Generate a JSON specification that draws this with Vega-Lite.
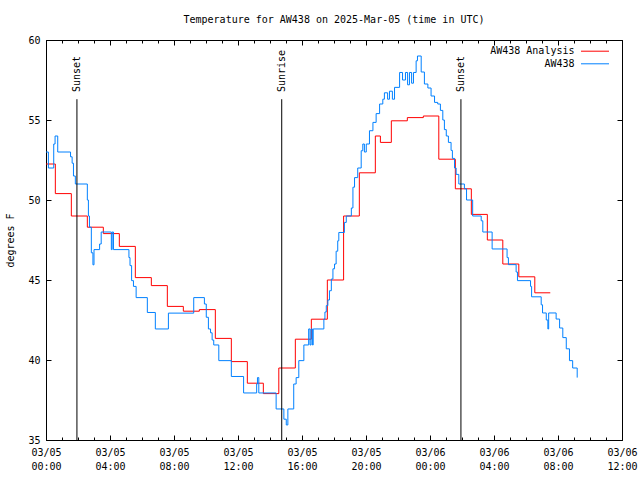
{
  "$schema": "https://vega.github.io/schema/vega-lite/v6.json",
  "width": 576,
  "height": 400,
  "autosize": "none",
  "padding": {"left": 46, "top": 40, "right": 18, "bottom": 40},
  "background": "white",
  "title": {"text": "Temperature for AW438 on 2025-Mar-05 (time in UTC)", "font": "DejaVu Sans Mono", "fontSize": 10, "fontWeight": "normal", "color": "black", "anchor": "middle", "offset": 10},
  "config": {
    "font": "DejaVu Sans Mono",
    "view": {"stroke": "black", "strokeWidth": 1},
    "axis": {"grid": false, "domain": false, "tickColor": "black", "tickWidth": 1, "labelColor": "black", "labelFont": "DejaVu Sans Mono", "labelFontSize": 10, "titleFont": "DejaVu Sans Mono", "titleFontSize": 10, "titleFontWeight": "normal", "titleColor": "black", "labelOverlap": false, "labelBound": false, "labelFlush": false}
  },
  "datasets": {
    "temps": [
      {"t": "2025-03-05T00:00:00Z", "v": 52.25, "s": "AW438 Analysis"},
      {"t": "2025-03-05T00:35:00Z", "v": 50.4, "s": "AW438 Analysis"},
      {"t": "2025-03-05T01:35:00Z", "v": 49.0, "s": "AW438 Analysis"},
      {"t": "2025-03-05T02:35:00Z", "v": 48.3, "s": "AW438 Analysis"},
      {"t": "2025-03-05T03:35:00Z", "v": 47.9, "s": "AW438 Analysis"},
      {"t": "2025-03-05T04:35:00Z", "v": 47.1, "s": "AW438 Analysis"},
      {"t": "2025-03-05T05:35:00Z", "v": 45.15, "s": "AW438 Analysis"},
      {"t": "2025-03-05T06:35:00Z", "v": 44.65, "s": "AW438 Analysis"},
      {"t": "2025-03-05T07:35:00Z", "v": 43.35, "s": "AW438 Analysis"},
      {"t": "2025-03-05T08:35:00Z", "v": 43.05, "s": "AW438 Analysis"},
      {"t": "2025-03-05T09:35:00Z", "v": 43.15, "s": "AW438 Analysis"},
      {"t": "2025-03-05T10:35:00Z", "v": 41.35, "s": "AW438 Analysis"},
      {"t": "2025-03-05T11:35:00Z", "v": 39.9, "s": "AW438 Analysis"},
      {"t": "2025-03-05T12:35:00Z", "v": 38.55, "s": "AW438 Analysis"},
      {"t": "2025-03-05T13:35:00Z", "v": 37.9, "s": "AW438 Analysis"},
      {"t": "2025-03-05T14:33:00Z", "v": 39.5, "s": "AW438 Analysis"},
      {"t": "2025-03-05T15:35:00Z", "v": 41.3, "s": "AW438 Analysis"},
      {"t": "2025-03-05T16:35:00Z", "v": 42.55, "s": "AW438 Analysis"},
      {"t": "2025-03-05T17:35:00Z", "v": 45.0, "s": "AW438 Analysis"},
      {"t": "2025-03-05T18:36:00Z", "v": 49.0, "s": "AW438 Analysis"},
      {"t": "2025-03-05T19:35:00Z", "v": 51.7, "s": "AW438 Analysis"},
      {"t": "2025-03-05T20:35:00Z", "v": 54.0, "s": "AW438 Analysis"},
      {"t": "2025-03-05T20:54:00Z", "v": 53.6, "s": "AW438 Analysis"},
      {"t": "2025-03-05T21:35:00Z", "v": 54.95, "s": "AW438 Analysis"},
      {"t": "2025-03-05T22:35:00Z", "v": 55.15, "s": "AW438 Analysis"},
      {"t": "2025-03-05T23:35:00Z", "v": 55.25, "s": "AW438 Analysis"},
      {"t": "2025-03-06T00:33:00Z", "v": 52.55, "s": "AW438 Analysis"},
      {"t": "2025-03-06T01:35:00Z", "v": 50.7, "s": "AW438 Analysis"},
      {"t": "2025-03-06T02:35:00Z", "v": 49.1, "s": "AW438 Analysis"},
      {"t": "2025-03-06T03:35:00Z", "v": 47.5, "s": "AW438 Analysis"},
      {"t": "2025-03-06T04:33:00Z", "v": 46.0, "s": "AW438 Analysis"},
      {"t": "2025-03-06T05:33:00Z", "v": 45.2, "s": "AW438 Analysis"},
      {"t": "2025-03-06T06:33:00Z", "v": 44.2, "s": "AW438 Analysis"},
      {"t": "2025-03-06T07:31:00Z", "v": 44.2, "s": "AW438 Analysis"},
      {"t": "2025-03-05T00:00:00Z", "v": 53.0, "s": "AW438"},
      {"t": "2025-03-05T00:09:00Z", "v": 52.0, "s": "AW438"},
      {"t": "2025-03-05T00:29:00Z", "v": 53.5, "s": "AW438"},
      {"t": "2025-03-05T00:34:00Z", "v": 54.0, "s": "AW438"},
      {"t": "2025-03-05T00:44:00Z", "v": 53.0, "s": "AW438"},
      {"t": "2025-03-05T01:32:00Z", "v": 52.7, "s": "AW438"},
      {"t": "2025-03-05T01:38:00Z", "v": 52.3, "s": "AW438"},
      {"t": "2025-03-05T01:43:00Z", "v": 51.5, "s": "AW438"},
      {"t": "2025-03-05T01:50:00Z", "v": 51.0, "s": "AW438"},
      {"t": "2025-03-05T02:35:00Z", "v": 50.0, "s": "AW438"},
      {"t": "2025-03-05T02:39:00Z", "v": 49.0, "s": "AW438"},
      {"t": "2025-03-05T02:43:00Z", "v": 48.3, "s": "AW438"},
      {"t": "2025-03-05T02:50:00Z", "v": 46.7, "s": "AW438"},
      {"t": "2025-03-05T02:56:00Z", "v": 45.95, "s": "AW438"},
      {"t": "2025-03-05T03:00:00Z", "v": 46.9, "s": "AW438"},
      {"t": "2025-03-05T03:21:00Z", "v": 47.25, "s": "AW438"},
      {"t": "2025-03-05T03:27:00Z", "v": 48.0, "s": "AW438"},
      {"t": "2025-03-05T04:05:00Z", "v": 46.9, "s": "AW438"},
      {"t": "2025-03-05T04:08:00Z", "v": 48.0, "s": "AW438"},
      {"t": "2025-03-05T04:13:00Z", "v": 46.9, "s": "AW438"},
      {"t": "2025-03-05T05:11:00Z", "v": 46.4, "s": "AW438"},
      {"t": "2025-03-05T05:15:00Z", "v": 45.9, "s": "AW438"},
      {"t": "2025-03-05T05:21:00Z", "v": 44.96, "s": "AW438"},
      {"t": "2025-03-05T05:28:00Z", "v": 44.6, "s": "AW438"},
      {"t": "2025-03-05T05:38:00Z", "v": 43.9, "s": "AW438"},
      {"t": "2025-03-05T06:20:00Z", "v": 42.97, "s": "AW438"},
      {"t": "2025-03-05T06:50:00Z", "v": 41.94, "s": "AW438"},
      {"t": "2025-03-05T07:39:00Z", "v": 42.93, "s": "AW438"},
      {"t": "2025-03-05T09:14:00Z", "v": 43.9, "s": "AW438"},
      {"t": "2025-03-05T09:54:00Z", "v": 43.5, "s": "AW438"},
      {"t": "2025-03-05T10:01:00Z", "v": 42.67, "s": "AW438"},
      {"t": "2025-03-05T10:09:00Z", "v": 41.94, "s": "AW438"},
      {"t": "2025-03-05T10:17:00Z", "v": 41.7, "s": "AW438"},
      {"t": "2025-03-05T10:23:00Z", "v": 41.25, "s": "AW438"},
      {"t": "2025-03-05T10:29:00Z", "v": 40.94, "s": "AW438"},
      {"t": "2025-03-05T10:48:00Z", "v": 39.96, "s": "AW438"},
      {"t": "2025-03-05T11:35:00Z", "v": 38.97, "s": "AW438"},
      {"t": "2025-03-05T12:21:00Z", "v": 37.94, "s": "AW438"},
      {"t": "2025-03-05T13:10:00Z", "v": 38.5, "s": "AW438"},
      {"t": "2025-03-05T13:13:00Z", "v": 38.9, "s": "AW438"},
      {"t": "2025-03-05T13:18:00Z", "v": 37.94, "s": "AW438"},
      {"t": "2025-03-05T14:23:00Z", "v": 36.94, "s": "AW438"},
      {"t": "2025-03-05T14:52:00Z", "v": 36.3, "s": "AW438"},
      {"t": "2025-03-05T15:01:00Z", "v": 35.94, "s": "AW438"},
      {"t": "2025-03-05T15:07:00Z", "v": 36.94, "s": "AW438"},
      {"t": "2025-03-05T15:29:00Z", "v": 38.5, "s": "AW438"},
      {"t": "2025-03-05T15:38:00Z", "v": 38.9, "s": "AW438"},
      {"t": "2025-03-05T15:48:00Z", "v": 39.96, "s": "AW438"},
      {"t": "2025-03-05T16:07:00Z", "v": 40.94, "s": "AW438"},
      {"t": "2025-03-05T16:25:00Z", "v": 41.94, "s": "AW438"},
      {"t": "2025-03-05T16:30:00Z", "v": 40.94, "s": "AW438"},
      {"t": "2025-03-05T16:34:00Z", "v": 41.94, "s": "AW438"},
      {"t": "2025-03-05T16:39:00Z", "v": 40.94, "s": "AW438"},
      {"t": "2025-03-05T16:42:00Z", "v": 41.94, "s": "AW438"},
      {"t": "2025-03-05T17:22:00Z", "v": 42.56, "s": "AW438"},
      {"t": "2025-03-05T17:26:00Z", "v": 43.0, "s": "AW438"},
      {"t": "2025-03-05T17:31:00Z", "v": 43.4, "s": "AW438"},
      {"t": "2025-03-05T17:37:00Z", "v": 43.75, "s": "AW438"},
      {"t": "2025-03-05T17:43:00Z", "v": 44.33, "s": "AW438"},
      {"t": "2025-03-05T17:50:00Z", "v": 45.06, "s": "AW438"},
      {"t": "2025-03-05T17:56:00Z", "v": 45.7, "s": "AW438"},
      {"t": "2025-03-05T18:02:00Z", "v": 46.0, "s": "AW438"},
      {"t": "2025-03-05T18:08:00Z", "v": 46.8, "s": "AW438"},
      {"t": "2025-03-05T18:14:00Z", "v": 47.45, "s": "AW438"},
      {"t": "2025-03-05T18:18:00Z", "v": 47.97, "s": "AW438"},
      {"t": "2025-03-05T18:39:00Z", "v": 48.6, "s": "AW438"},
      {"t": "2025-03-05T18:46:00Z", "v": 49.0, "s": "AW438"},
      {"t": "2025-03-05T19:05:00Z", "v": 49.5, "s": "AW438"},
      {"t": "2025-03-05T19:11:00Z", "v": 50.8, "s": "AW438"},
      {"t": "2025-03-05T19:17:00Z", "v": 51.4, "s": "AW438"},
      {"t": "2025-03-05T19:29:00Z", "v": 52.0, "s": "AW438"},
      {"t": "2025-03-05T19:42:00Z", "v": 53.08, "s": "AW438"},
      {"t": "2025-03-05T19:48:00Z", "v": 53.5, "s": "AW438"},
      {"t": "2025-03-05T19:54:00Z", "v": 53.0, "s": "AW438"},
      {"t": "2025-03-05T20:01:00Z", "v": 53.5, "s": "AW438"},
      {"t": "2025-03-05T20:13:00Z", "v": 54.33, "s": "AW438"},
      {"t": "2025-03-05T20:26:00Z", "v": 54.85, "s": "AW438"},
      {"t": "2025-03-05T20:38:00Z", "v": 55.4, "s": "AW438"},
      {"t": "2025-03-05T20:51:00Z", "v": 56.0, "s": "AW438"},
      {"t": "2025-03-05T21:03:00Z", "v": 56.3, "s": "AW438"},
      {"t": "2025-03-05T21:09:00Z", "v": 56.7, "s": "AW438"},
      {"t": "2025-03-05T21:21:00Z", "v": 56.3, "s": "AW438"},
      {"t": "2025-03-05T21:28:00Z", "v": 56.8, "s": "AW438"},
      {"t": "2025-03-05T21:39:00Z", "v": 56.3, "s": "AW438"},
      {"t": "2025-03-05T21:47:00Z", "v": 57.04, "s": "AW438"},
      {"t": "2025-03-05T22:06:00Z", "v": 57.97, "s": "AW438"},
      {"t": "2025-03-05T22:17:00Z", "v": 57.5, "s": "AW438"},
      {"t": "2025-03-05T22:28:00Z", "v": 57.97, "s": "AW438"},
      {"t": "2025-03-05T22:36:00Z", "v": 57.2, "s": "AW438"},
      {"t": "2025-03-05T22:43:00Z", "v": 57.97, "s": "AW438"},
      {"t": "2025-03-05T22:51:00Z", "v": 57.3, "s": "AW438"},
      {"t": "2025-03-05T22:58:00Z", "v": 57.97, "s": "AW438"},
      {"t": "2025-03-05T23:08:00Z", "v": 58.7, "s": "AW438"},
      {"t": "2025-03-05T23:13:00Z", "v": 59.0, "s": "AW438"},
      {"t": "2025-03-05T23:27:00Z", "v": 58.0, "s": "AW438"},
      {"t": "2025-03-05T23:39:00Z", "v": 57.25, "s": "AW438"},
      {"t": "2025-03-05T23:52:00Z", "v": 57.0, "s": "AW438"},
      {"t": "2025-03-06T00:04:00Z", "v": 56.5, "s": "AW438"},
      {"t": "2025-03-06T00:17:00Z", "v": 56.1, "s": "AW438"},
      {"t": "2025-03-06T00:29:00Z", "v": 56.0, "s": "AW438"},
      {"t": "2025-03-06T00:39:00Z", "v": 55.6, "s": "AW438"},
      {"t": "2025-03-06T00:48:00Z", "v": 55.0, "s": "AW438"},
      {"t": "2025-03-06T00:54:00Z", "v": 54.4, "s": "AW438"},
      {"t": "2025-03-06T01:01:00Z", "v": 54.0, "s": "AW438"},
      {"t": "2025-03-06T01:09:00Z", "v": 53.6, "s": "AW438"},
      {"t": "2025-03-06T01:19:00Z", "v": 53.1, "s": "AW438"},
      {"t": "2025-03-06T01:24:00Z", "v": 52.6, "s": "AW438"},
      {"t": "2025-03-06T01:32:00Z", "v": 52.0, "s": "AW438"},
      {"t": "2025-03-06T01:38:00Z", "v": 51.6, "s": "AW438"},
      {"t": "2025-03-06T01:48:00Z", "v": 51.0, "s": "AW438"},
      {"t": "2025-03-06T02:09:00Z", "v": 50.7, "s": "AW438"},
      {"t": "2025-03-06T02:17:00Z", "v": 50.0, "s": "AW438"},
      {"t": "2025-03-06T02:40:00Z", "v": 49.0, "s": "AW438"},
      {"t": "2025-03-06T03:12:00Z", "v": 48.7, "s": "AW438"},
      {"t": "2025-03-06T03:18:00Z", "v": 48.0, "s": "AW438"},
      {"t": "2025-03-06T03:53:00Z", "v": 46.94, "s": "AW438"},
      {"t": "2025-03-06T04:49:00Z", "v": 46.4, "s": "AW438"},
      {"t": "2025-03-06T04:54:00Z", "v": 45.96, "s": "AW438"},
      {"t": "2025-03-06T05:23:00Z", "v": 45.5, "s": "AW438"},
      {"t": "2025-03-06T05:28:00Z", "v": 44.96, "s": "AW438"},
      {"t": "2025-03-06T06:17:00Z", "v": 44.6, "s": "AW438"},
      {"t": "2025-03-06T06:21:00Z", "v": 43.95, "s": "AW438"},
      {"t": "2025-03-06T06:57:00Z", "v": 43.45, "s": "AW438"},
      {"t": "2025-03-06T07:02:00Z", "v": 42.94, "s": "AW438"},
      {"t": "2025-03-06T07:16:00Z", "v": 42.5, "s": "AW438"},
      {"t": "2025-03-06T07:22:00Z", "v": 41.94, "s": "AW438"},
      {"t": "2025-03-06T07:25:00Z", "v": 42.94, "s": "AW438"},
      {"t": "2025-03-06T07:53:00Z", "v": 42.56, "s": "AW438"},
      {"t": "2025-03-06T08:06:00Z", "v": 42.0, "s": "AW438"},
      {"t": "2025-03-06T08:18:00Z", "v": 41.4, "s": "AW438"},
      {"t": "2025-03-06T08:31:00Z", "v": 40.7, "s": "AW438"},
      {"t": "2025-03-06T08:43:00Z", "v": 39.96, "s": "AW438"},
      {"t": "2025-03-06T08:55:00Z", "v": 39.5, "s": "AW438"},
      {"t": "2025-03-06T09:12:00Z", "v": 38.9, "s": "AW438"}
    ],
    "events": [
      {"t": "2025-03-05T01:56:00Z", "label": "Sunset"},
      {"t": "2025-03-05T14:44:00Z", "label": "Sunrise"},
      {"t": "2025-03-06T01:56:00Z", "label": "Sunset"}
    ]
  },
  "resolve": {"axis": {"x": "independent", "y": "independent"}},
  "layer": [
    {
      "data": {"name": "temps"},
      "transform": [{"filter": "datum.s === 'AW438 Analysis'"}],
      "mark": {"type": "line", "interpolate": "step-after", "strokeWidth": 1},
      "encoding": {
        "x": {"field": "t", "type": "temporal",
          "scale": {"type": "utc", "domain": [1741132800000, 1741262400000]},
          "axis": {"orient": "bottom", "title": null, "values": [1741132800000, 1741147200000, 1741161600000, 1741176000000, 1741190400000, 1741204800000, 1741219200000, 1741233600000, 1741248000000, 1741262400000], "tickSize": -5, "labelPadding": 12, "labelLineHeight": 14,
            "labelExpr": "[utcFormat(datum.value, '%m/%d'), utcFormat(datum.value, '%H:%M')]"}},
        "y": {"field": "v", "type": "quantitative",
          "scale": {"domain": [35, 60], "nice": false, "zero": false},
          "axis": {"orient": "left", "values": [35, 40, 45, 50, 55, 60], "tickSize": -5, "labelPadding": 11, "title": "degrees F", "titlePadding": 12}},
        "color": {"field": "s", "type": "nominal",
          "scale": {"domain": ["AW438 Analysis", "AW438"], "range": ["#ff0000", "#0080ff"]},
          "legend": {"orient": "none", "legendX": 543.5, "legendY": 5.7, "title": null, "symbolType": "M-2.8,0H2.8", "symbolSize": 100, "symbolStrokeWidth": 1, "labelAlign": "right", "labelOffset": -26, "labelFontSize": 10, "labelFont": "DejaVu Sans Mono", "labelColor": "black", "padding": 0, "rowPadding": 1.6, "labelLimit": 0}}
      }
    },
    {
      "data": {"name": "temps"},
      "transform": [{"filter": "datum.s === 'AW438'"}],
      "mark": {"type": "line", "interpolate": "step-after", "strokeWidth": 1},
      "encoding": {
        "x": {"field": "t", "type": "temporal",
          "axis": {"orient": "top", "title": null, "values": [1741132800000, 1741147200000, 1741161600000, 1741176000000, 1741190400000, 1741204800000, 1741219200000, 1741233600000, 1741248000000, 1741262400000], "tickSize": -5, "labels": false}},
        "y": {"field": "v", "type": "quantitative",
          "axis": {"orient": "right", "values": [35, 40, 45, 50, 55, 60], "tickSize": -5, "labels": false, "title": null}},
        "color": {"field": "s", "type": "nominal",
          "legend": {"orient": "none", "legendX": 543.5, "legendY": 5.7, "title": null, "symbolType": "M-2.8,0H2.8", "symbolSize": 100, "symbolStrokeWidth": 1, "labelAlign": "right", "labelOffset": -26, "labelFontSize": 10, "labelFont": "DejaVu Sans Mono", "labelColor": "black", "padding": 0, "rowPadding": 1.6, "labelLimit": 0}}
      }
    },
    {
      "data": {"name": "events"},
      "mark": {"type": "rule", "color": "black", "strokeWidth": 1},
      "encoding": {
        "x": {"field": "t", "type": "temporal",
          "axis": {"orient": "bottom", "title": null, "tickCount": 36, "tickSize": -3, "labels": false}},
        "y": {"datum": 35, "type": "quantitative", "axis": null},
        "y2": {"datum": 56.3}
      }
    },
    {
      "data": {"name": "events"},
      "mark": {"type": "text", "angle": 270, "align": "left", "baseline": "middle", "fontSize": 10, "font": "DejaVu Sans Mono", "color": "black"},
      "encoding": {
        "x": {"field": "t", "type": "temporal",
          "axis": {"orient": "top", "title": null, "tickCount": 36, "tickSize": -3, "labels": false}},
        "y": {"datum": 56.75, "type": "quantitative", "axis": null},
        "text": {"field": "label"}
      }
    }
  ]
}
